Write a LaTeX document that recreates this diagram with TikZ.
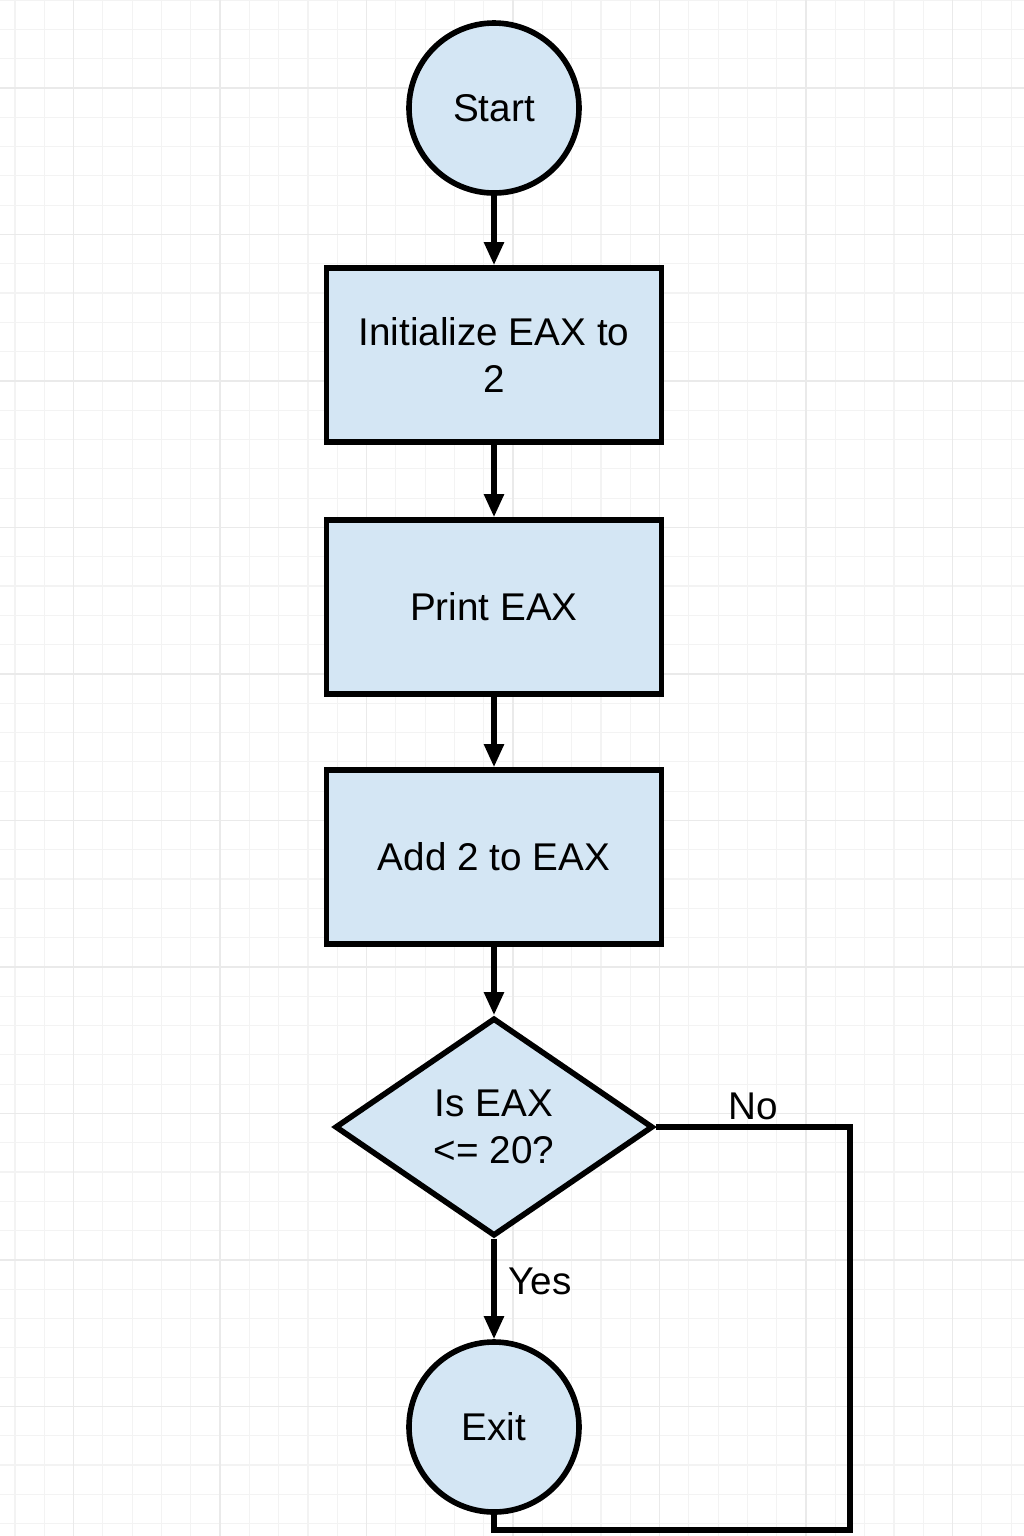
\documentclass[tikz,border=0pt]{standalone}
\usepackage{fontspec}
\setmainfont{Liberation Sans}
\usetikzlibrary{shapes.geometric, arrows.meta}

\definecolor{boxblue}{RGB}{212,230,244}
\definecolor{gridminor}{RGB}{243,243,243}
\definecolor{gridmajor}{RGB}{234,234,234}

\tikzset{
    base/.style={draw=black, line width=1.6pt, fill=boxblue, inner sep=2pt,
        font=\fontsize{11}{13.5}\selectfont, align=center},
    terminal/.style={base, circle, minimum size=17mm},
    process/.style={base, rectangle, minimum width=33.5mm, minimum height=17.4mm},
    decision/.style={base, diamond, inner sep=0pt, minimum width=31.8mm, minimum height=21.8mm},
    flow/.style={line width=1.5pt, -{Triangle[length=2.3mm, width=1.9mm]}},
    lbl/.style={font=\fontsize{11}{13.5}\selectfont}
}

\begin{document}
\begin{tikzpicture}[x=0.1mm, y=-0.1mm]
    % 1. Khung trang va nen luoi
    \useasboundingbox (0,0) rectangle (1024,1536);
    \fill[white] (0,0) rectangle (1024,1536);
    \foreach \i in {0,...,35} {
        \draw[gridminor, line width=0.3pt] ({15+29.3*\i},0) -- ({15+29.3*\i},1536);
    }
    \foreach \j in {0,...,52} {
        \draw[gridminor, line width=0.3pt] (0,{29.3*\j}) -- (1024,{29.3*\j});
    }
    \foreach \i in {0,...,7} {
        \draw[gridmajor, line width=0.4pt] ({73.6+146.5*\i},0) -- ({73.6+146.5*\i},1536);
    }
    \foreach \j in {0,...,10} {
        \draw[gridmajor, line width=0.4pt] (0,{88+146.5*\j}) -- (1024,{88+146.5*\j});
    }

    % 2. Cac khoi
    \node[terminal] (start) at (494,108) {Start};
    \node[process] (init) at (494,355) {Initialize EAX to\\2};
    \node[process] (print) at (494,607) {Print EAX};
    \node[process] (add) at (494,857) {Add 2 to EAX};
    \node[decision] (check) at (494,1127) {Is EAX\\<= 20?};
    \node[terminal] (exit) at (494,1427) {Exit};

    % 3. Mui ten
    \draw[flow] (start) -- (init);
    \draw[flow] (init) -- (print);
    \draw[flow] (print) -- (add);
    \draw[flow] (add) -- (check);
    \draw[flow] (check) -- node[lbl, right, pos=0.42] {Yes} (exit);

    % 4. Nhanh No vong xuong duoi
    \coordinate (loopR) at (850,1530);
    \draw[line width=1.5pt] (check.east) -| node[lbl, above, pos=0.25, yshift=-2pt] {No} (loopR)
        -| (exit.south);
\end{tikzpicture}
\end{document}
